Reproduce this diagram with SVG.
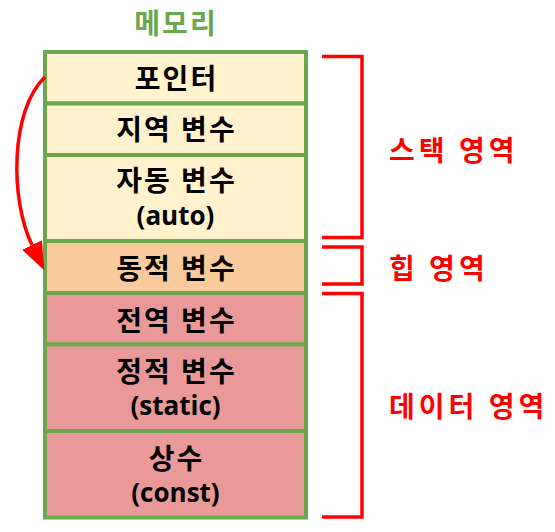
<svg xmlns="http://www.w3.org/2000/svg" width="555" height="532" viewBox="0 0 555 532">
<style>
.cell{stroke:#6AA84F;stroke-width:4}
.stack{fill:#FFF2CC}
.heap{fill:#F9CB9C}
.data{fill:#EA9999}
.lbl{font-family:"Open Sans","Noto Sans CJK KR",sans-serif;font-weight:bold;font-size:28px;letter-spacing:2px;fill:#000;text-anchor:middle}
.lat{font-size:26px;letter-spacing:0}
.title{font-family:"Noto Sans CJK KR",sans-serif;font-weight:bold;font-size:28px;letter-spacing:2px;fill:#6AA84F;text-anchor:middle}
.area{font-family:"Noto Sans CJK KR",sans-serif;font-weight:bold;font-size:28px;letter-spacing:4px;fill:#FF0000}
.br{fill:none;stroke:#FF0000;stroke-width:3.5;stroke-linejoin:miter}
</style>
<defs>
<marker id="ah" markerUnits="userSpaceOnUse" markerWidth="28" markerHeight="22" viewBox="0 0 28 22" refX="0" refY="11" orient="auto">
<path d="M0,0 L28,11 L0,22 z" fill="#FF0000"/>
</marker>
</defs>
<rect width="555" height="532" fill="#FFFFFF"/>
<text class="title" x="176" y="34">메모리</text>
<g id="pointer"><rect class="cell stack" x="45" y="52" width="261" height="51.5"/><text class="lbl" x="176.5" y="89">포인터</text></g>
<g id="local"><rect class="cell stack" x="45" y="103.5" width="261" height="51.5"/><text class="lbl" x="176.5" y="140">지역 변수</text></g>
<g id="auto"><rect class="cell stack" x="45" y="155" width="261" height="86"/><text class="lbl" x="176.5" y="191">자동 변수</text><text class="lbl lat" x="175.5" y="225">(auto)</text></g>
<g id="dynamic"><rect class="cell heap" x="45" y="241" width="261" height="52"/><text class="lbl" x="176.5" y="279">동적 변수</text></g>
<g id="global"><rect class="cell data" x="45" y="293" width="261" height="51.5"/><text class="lbl" x="176.5" y="331">전역 변수</text></g>
<g id="static"><rect class="cell data" x="45" y="344.5" width="261" height="86.5"/><text class="lbl" x="176.5" y="382">정적 변수</text><text class="lbl lat" x="175.5" y="415">(static)</text></g>
<g id="const"><rect class="cell data" x="45" y="431" width="261" height="86.5"/><text class="lbl" x="176.5" y="469">상수</text><text class="lbl lat" x="175.5" y="502">(const)</text></g>
<g id="stack-area"><path class="br" d="M322,56.5 H362 V237.5 H322"/><text class="area" x="389" y="161">스택 영역</text></g>
<g id="heap-area"><path class="br" d="M322,247 H362 V284 H322"/><text class="area" x="389" y="279">힙 영역</text></g>
<g id="data-area"><path class="br" d="M322,293.5 H362 V517 H322"/><text class="area" x="389" y="417">데이터 영역</text></g>
<g id="connectors">
<path d="M45,77 C10,110 10,200 32,245" fill="none" stroke="#FF0000" stroke-width="3.5" marker-end="url(#ah)"/>
</g>
</svg>
